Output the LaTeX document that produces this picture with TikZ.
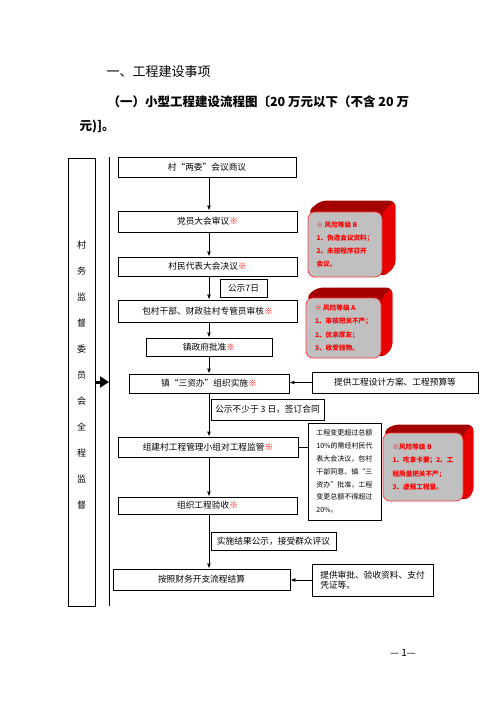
\documentclass[tikz,border=0pt]{standalone}
\usepackage{fontspec}
\setmainfont{Noto Sans CJK SC}
\usetikzlibrary{arrows.meta,backgrounds}
\definecolor{riskdark}{RGB}{165,0,0}
\definecolor{riskred}{RGB}{230,0,0}
\definecolor{riskgray}{RGB}{192,192,192}
\newcommand{\warnmark}{\textcolor{red}{※}}
\begin{document}
\begin{tikzpicture}[x=1pt, y=-1pt, font=\fontsize{8.7}{10}\selectfont,
  flowbox/.style={draw, line width=0.9pt, inner sep=0pt},
  notebox/.style={draw, line width=0.9pt, inner sep=0pt, align=left,
    font=\fontsize{7}{12.8}\selectfont},
  riskbox/.style={draw=red!75, line width=0.8pt, fill=riskgray, rounded corners=7pt,
    inner sep=0pt, align=left, text=red, font=\fontsize{6.6}{13.3}\selectfont\bfseries},
  flow/.style={-{Latex[length=5pt,width=4pt]}, line width=0.9pt}]
  \useasboundingbox (0,0) rectangle (496,702);
  \node[anchor=west, font=\fontsize{13}{15}\selectfont] (title) at (103,72) {一、工程建设事项};
  \node[anchor=west, font=\fontsize{12.5}{15}\selectfont\bfseries] (sub1) at (104,102) {（一）小型工程建设流程图〔20 万元以下（不含 20 万};
  \node[anchor=west, font=\fontsize{12.5}{15}\selectfont\bfseries] (sub2) at (76,127) {元)]。};
  \node[flowbox, minimum width=27pt, minimum height=448pt] (left) at (81.5,382) {};
  \node[align=center, font=\fontsize{9}{26}\selectfont] (lefttext) at (81.5,375)
    {村\\务\\监\\督\\委\\员\\会\\全\\程\\监\\督};
  \coordinate (vtop) at (109,157);
  \coordinate (vbot) at (109,606);
  \coordinate (spine) at (209,0);
  \node[flowbox, minimum width=178pt, minimum height=20pt] (b1) at (207,167) {村“两委”会议商议};
  \node[flowbox, minimum width=179pt, minimum height=21pt] (b2) at (207.5,221.5) {党员大会审议\warnmark};
  \node[flowbox, minimum width=179pt, minimum height=19pt] (b3) at (207.5,266.5) {村民代表大会决议\warnmark};
  \node[flowbox, minimum width=47pt, minimum height=18pt] (pub7) at (243.5,288) {公示7日};
  \node[flowbox, minimum width=179pt, minimum height=22pt] (b4) at (207.5,311) {包村干部、财政驻村专管员审核\warnmark};
  \node[flowbox, minimum width=126pt, minimum height=18pt] (b5) at (209,347) {镇政府批准\warnmark};
  \node[flowbox, minimum width=160pt, minimum height=19pt] (b6) at (209,383.5) {镇“三资办”组织实施\warnmark};
  \node[flowbox, minimum width=166pt, minimum height=21pt] (design) at (395,382.5) {提供工程设计方案、工程预算等};
  \node[flowbox, minimum width=113pt, minimum height=21pt] (pub3) at (267.5,409.5) {公示不少于 3 日，签订合同};
  \node[flowbox, minimum width=180pt, minimum height=20pt] (b7) at (208,447) {组建村工程管理小组对工程监管\warnmark};
  \node[notebox, minimum width=73pt, minimum height=97pt] (note) at (344.5,471.5)
    {工程变更超过总额\\10\%的需经村民代\\表大会决议，包村\\干部同意、镇“三\\资办”批准，工程\\变更总额不得超过\\20\%。};
  \node[flowbox, minimum width=179pt, minimum height=17pt] (b8) at (207.5,505.5) {组织工程验收\warnmark};
  \node[flowbox, minimum width=125pt, minimum height=18pt] (result) at (273.5,541) {实施结果公示，接受群众评议};
  \node[flowbox, minimum width=177pt, minimum height=21pt] (b9) at (201.5,579.5) {按照财务开支流程结算};
  \node[flowbox, minimum width=121pt, minimum height=32pt, align=left] (docs) at (372.5,580)
    {提供审批、验收资料、支付\\凭证等。};
  \node[riskbox, minimum width=74pt, minimum height=65pt] (r1) at (345,244.5)
    {※ 风险等级 B\\1、伪造会议资料；\\2、未按程序召开\\会议。};
  \node[riskbox, minimum width=75pt, minimum height=60pt] (r2) at (343.5,328)
    {※ 风险等级 A\\1、审核把关不严；\\2、优亲厚友；\\3、收受钱物。};
  \node[riskbox, minimum width=80pt, minimum height=68pt] (r3) at (423,467)
    {※风险等级 B\\1、吃拿卡要；2、工\\程质量把关不严；\\3、虚报工程量。};
  \begin{pgfonlayer}{background}
    \fill[riskdark, rounded corners=6pt] (r1.north west) -- ++(13,-11) -| ([shift={(13,-11)}]r1.south east) -- (r1.south east) -- cycle;
    \fill[riskred, rounded corners=6pt] (r1.north east) -- ++(13,-11) -- ([shift={(13,-11)}]r1.south east) -- (r1.south east) -- cycle;
    \fill[riskdark, rounded corners=6pt] (r2.north west) -- ++(11,-10) -| ([shift={(11,-10)}]r2.south east) -- (r2.south east) -- cycle;
    \fill[riskred, rounded corners=6pt] (r2.north east) -- ++(11,-10) -- ([shift={(11,-10)}]r2.south east) -- (r2.south east) -- cycle;
    \fill[riskdark, rounded corners=6pt] (r3.north west) -- ++(10,-8) -| ([shift={(10,-8)}]r3.south east) -- (r3.south east) -- cycle;
    \fill[riskred, rounded corners=6pt] (r3.north east) -- ++(10,-8) -- ([shift={(10,-8)}]r3.south east) -- (r3.south east) -- cycle;
  \end{pgfonlayer}
  \draw[line width=0.9pt] (vtop) -- (vbot);
  \draw[line width=3pt, -{Triangle[length=9pt,width=11pt]}] (left.east) -- (left.east -| vtop);
  \draw[flow] (b1.south -| spine) -- (b2.north -| spine);
  \draw[flow] (b2.south -| spine) -- (b3.north -| spine);
  \draw[flow] (b3.south -| spine) -- (b4.north -| spine);
  \draw[flow] (b4.south -| spine) -- (b5.north -| spine);
  \draw[flow] (b5.south -| spine) -- (b6.north -| spine);
  \draw[flow] (b6.south -| spine) -- (b7.north -| spine);
  \draw[flow] (b7.south -| spine) -- (b8.north -| spine);
  \draw[flow] (b8.south -| spine) -- (b9.north -| spine);
  \draw[flow] (design.west) -- (design.west -| b6.east);
  \draw[flow] (docs.west) -- (docs.west -| b9.east);
  \draw[line width=0.9pt] (b7.east) -- (b7.east -| note.west);
  \node[font=\fontsize{10}{12}\selectfont] (page) at (403,653) {— 1—};
\end{tikzpicture}
\end{document}
